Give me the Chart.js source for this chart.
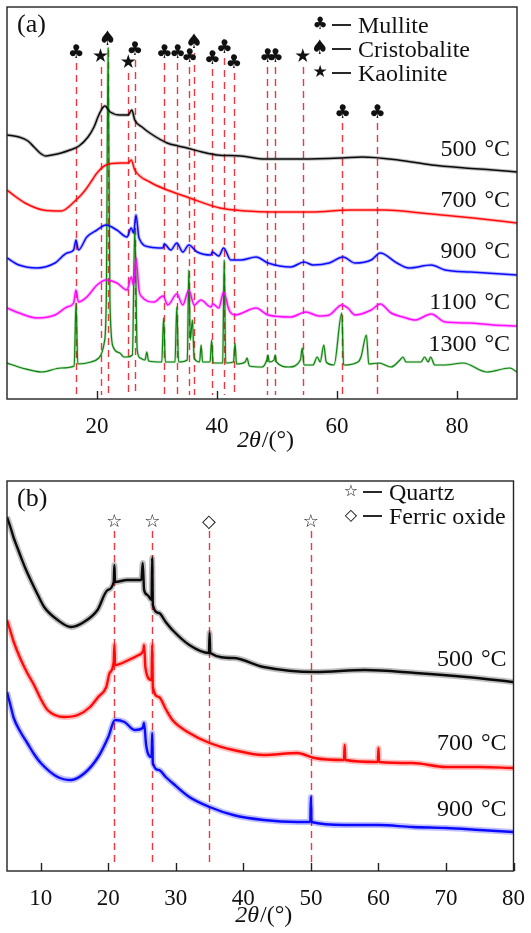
<!DOCTYPE html>
<html>
<head>
<meta charset="utf-8">
<script src="https://cdn.jsdelivr.net/npm/chart.js@4.4.1/dist/chart.umd.min.js"></script>
<style>
  html, body { margin: 0; padding: 0; background: #fff; }
  canvas { position: absolute; left: 0; }
  #xrdA { top: 0; }
  #xrdB { top: 465px; }
</style>
</head>
<body>
<canvas id="xrdA" width="531" height="465"></canvas>
<canvas id="xrdB" width="531" height="468"></canvas>
<script>
// (a) XRD patterns, 2θ in degrees vs intensity (a.u., stacked)
const ticksA = [20, 40, 60, 80];
const labelsA = ['500 \u200A°C', '700 \u200A°C', '900 \u200A°C', '1100 \u200A°C', '1300 \u200A°C'];

const a500 = [[5,264],[7,262],[8.5,258],[9.5,252],[10.5,246],[11.5,243],[12.5,244],[14,246],[15.5,249],[17,253],
  [18.5,262],[19.5,272],[20.3,284],[21.3,293],[22.2,287],[23.8,284],[25.2,284],[25.8,289],[26.3,279],[27.5,272],
  [28.8,266],[31.7,256],[33.5,253],[35,251],[37.5,247],[40,244],[44,243],[48,240],[54.2,240],[60.8,241],
  [64.2,242],[70.2,239],[75.8,234],[81.3,231],[86,229],[90,227]];

const a700 = [[5,209],[6.5,202],[8,196],[11,189],[14,188],[16.5,199],[17.5,205],[18.3,211],[19.2,219],[20,226],
  [21.5,234],[23.8,236],[25.2,236],[25.7,239],[26.3,229],[28.8,217],[31.7,209],[35,202],[40.5,191],[45,188],
  [49,187],[55.7,187],[62.3,189],[68,189],[74,186],[82.7,181],[90,176]];

const a900 = [[5,141],[7,134],[10,131],[13,136],[15,146],[16.1,149],[16.5,159],[16.9,149],[18.3,162],[20,169],
  [21.5,174],[23.3,169],[25,162],[25.7,171],[26.1,166],[26.5,184],[27,161],[28.8,152],[31,151],[31.2,155],
  [32.3,149],[33.3,156],[34.3,147],[35.3,154],[36.7,147],[39,144],[39.2,147],[40.3,143],[41.1,151],[42.3,139],
  [44,139],[46.5,142],[48.5,136],[52.3,132],[54.5,137],[56,134],[58.7,136],[61,142],[63,136],[65.7,139],
  [67.2,146],[70,136],[72,131],[75.7,134],[78,129],[82.3,127],[90,124]];

const a1100 = [[5,91],[7,86],[10,81],[13,84],[15,92],[16.1,96],[16.5,109],[16.9,97],[18.3,102],[20,114],
  [21.5,119],[23.3,116],[25,109],[25.7,122],[26.1,114],[26.5,141],[27,109],[27.5,102],[29.5,97],[31,103],
  [31.8,94],[33.3,105],[34.3,94],[35.3,109],[36.2,94],[37.3,99],[39,92],[39.3,95],[40.3,91],[41.1,107],
  [42,89],[43,84],[46.5,91],[48.5,84],[52.3,82],[54.8,87],[57,83],[58.7,84],[60.8,94],[61.8,91],
  [63,84],[65.7,89],[67.2,95],[69,86],[71,82],[73,79],[75.7,85],[78,77],[82,76],[86,74],[90,73]];

const a1300 = [[5,36],[7.5,31],[10.8,27],[14,31],[16.2,33],[16.5,96],[16.8,35],[19,37],[20.3,41],[21.2,56],
  [21.55,99],[21.85,351],[22.15,99],[22.7,52],[23.8,46],[24.5,42],[25,42],[25.9,44],[26.3,171],[26.7,49],
  [27.2,41],[28,39],[28.3,47],[28.6,38],[30.8,37],[31.1,81],[31.4,37],[33,37],[33.3,92],[33.6,37],
  [35.05,39],[35.3,129],[35.55,59],[35.9,79],[36.2,41],[37.1,37],[37.35,54],[37.6,37],[38.85,37],[39.1,59],
  [39.35,36],[40.95,36],[41.2,139],[41.45,36],[42.75,37],[43,56],[43.25,35],[44.7,37],[45,41],[45.4,33],
  [47.5,32],[48.3,39],[48.5,44],[48.7,37],[49.5,39],[49.7,44],[49.9,37],[52,32],[53.9,39],[54.2,51],
  [54.5,34],[56,34],[56.7,42],[57.2,37],[57.8,54],[58.2,37],[59.5,34],[60.8,86],[61.1,34],[63.5,37],
  [64,42],[64.9,64],[65.3,35],[67,36],[69,32],[70.5,39],[71,42],[71.5,37],[74,37],[74.6,42],
  [75.2,37],[75.6,42],[76.3,34],[78,34],[81,36],[85,27],[88.8,31],[90,27]];

const mulliteA = [16.5, 26.3, 31.2, 33.4, 35.4, 39.2, 41.2, 42.8, 48.4, 49.7, 60.9, 66.7];
const cristobaliteA = [21.8, 36.2];
const kaoliniteA = [20.6, 25.2, 54.3];

// (b) XRD patterns
const ticksB = [10, 20, 30, 40, 50, 60, 70, 80];
const labelsB = ['500 \u200A°C', '700 \u200A°C', '900 \u200A°C'];

const b500 = [[5,354],[5.5,344],[6,333],[6.5,324],[7,315],[7.7,303],[8.5,291],[9.5,277],[10.5,264],[12.5,251],
  [14.5,244],[16.4,249],[18.4,261],[19.9,281],[20.8,289],[20.9,306],[21,289],[22.8,291],[24.9,291],[25.1,308],
  [25.3,281],[25.8,276],[26.4,271],[26.5,313],[26.6,266],[27.5,258],[28.5,249],[29.5,241],[32,226],[34.9,218],
  [35,238],[35.1,218],[38.5,213],[43,204],[50.6,199],[58,201],[65.5,198],[73,194],[80,189]];

const b700 = [[5,251],[5.5,240],[6,229],[7,212],[8,198],[9,186],[10,172],[11,161],[13.5,154],[15.5,156],
  [17.3,164],[18.5,174],[19.7,184],[20.2,198],[20.8,209],[20.9,226],[21,206],[23,211],[24.5,216],[25.2,221],
  [25.3,226],[25.5,203],[26.4,191],[26.5,226],[26.6,184],[27.5,174],[28.5,162],[29.5,151],[32,138],[35,128],
  [38.5,121],[43,116],[48,118],[50.5,113],[54.9,111],[55,126],[55.1,111],[59.9,109],[60,123],[60.1,109],
  [65,108],[70,104],[75,104],[80,103]];

const b900 = [[5,179],[5.5,166],[6,153],[7,139],[8,128],[9,117],[10,108],[12.5,94],[14.5,91],[16.5,98],
  [18.5,114],[20,134],[21,151],[22.4,149],[23.9,141],[25.1,143],[25.3,148],[25.6,126],[26.4,114],[26.5,138],
  [26.6,108],[27.5,101],[28.5,94],[29.5,88],[32,74],[35,64],[38.5,56],[43,51],[48,49],[49.9,49],
  [50,74],[50.1,49],[55,46],[60,46],[65,44],[70,43],[75,41],[80,39]];

const quartzB = [20.9, 26.5, 50.0];
const ferricB = [34.9];

const SERIF = '"Liberation Serif", "Times New Roman", serif';
const SYMBOLS = '"DejaVu Sans", sans-serif';
const DASH_RED = 'rgb(236, 56, 64)';

function toPoints(arr) {
  return arr.map(p => ({ x: p[0], y: p[1] }));
}

function rgba(rgb, a) {
  return 'rgba(' + rgb.join(',') + ',' + a + ')';
}

// each pattern: a solid core line plus a soft wider stroke underneath for the counting noise
function buildDatasets(series, colors, core, halo) {
  const lines = series.map((s, i) => ({
    data: toPoints(s), borderColor: rgba(colors[i], 0.95), borderWidth: core[i],
    cubicInterpolationMode: 'monotone'
  }));
  const fuzz = series.map((s, i) => ({
    data: toPoints(s), borderColor: rgba(colors[i], 0.25), borderWidth: halo[i],
    cubicInterpolationMode: 'monotone'
  }));
  return lines.concat(fuzz);
}

function drawText(ctx, txt, x, y, size, align, italic) {
  ctx.font = (italic ? 'italic ' : '') + size + 'px ' + SERIF;
  ctx.textAlign = align || 'left';
  ctx.textBaseline = 'alphabetic';
  ctx.fillStyle = '#111';
  ctx.fillText(txt, x, y);
}

function drawSymbol(ctx, sym, x, y, size) {
  ctx.font = size + 'px ' + SYMBOLS;
  ctx.textAlign = 'center';
  ctx.textBaseline = 'middle';
  ctx.fillStyle = '#111';
  ctx.fillText(sym, x, y);
}

function decorPlugin(cfg) {
  return {
    id: 'xrdDecor',
    beforeDatasetsDraw(chart) {
      const ctx = chart.ctx, xs = chart.scales.x, ys = chart.scales.y, area = chart.chartArea;
      ctx.save();
      ctx.strokeStyle = DASH_RED;
      ctx.lineWidth = 1.4;
      ctx.setLineDash([7, 5]);
      cfg.markers.forEach(m => {
        const x = Math.round(xs.getPixelForValue(m.pos)) + 0.5;
        ctx.beginPath();
        ctx.moveTo(x, ys.getPixelForValue(m.h) + cfg.lineGap);
        ctx.lineTo(x, area.bottom - 4);
        ctx.stroke();
      });
      ctx.restore();
    },
    afterDatasetsDraw(chart) {
      const ctx = chart.ctx, xs = chart.scales.x, ys = chart.scales.y, area = chart.chartArea;
      ctx.save();
      // frame
      ctx.strokeStyle = '#222';
      ctx.lineWidth = 1.4;
      ctx.strokeRect(area.left, area.top, area.right - area.left, area.bottom - area.top);
      // inward tick marks
      cfg.ticks.forEach(v => {
        const x = Math.round(xs.getPixelForValue(v)) + 0.5;
        ctx.beginPath();
        ctx.moveTo(x, area.bottom);
        ctx.lineTo(x, area.bottom - 8);
        ctx.stroke();
      });
      // phase symbols above the dashed lines
      cfg.markers.forEach(m => drawSymbol(ctx, m.sym, xs.getPixelForValue(m.pos), ys.getPixelForValue(m.h), m.size));
      // temperature labels
      cfg.temps.forEach((t, i) => drawText(ctx, t, area.right - 7, ys.getPixelForValue(cfg.tempY[i]) + 8, 24, 'right'));
      // legend
      cfg.legend.forEach(row => {
        drawSymbol(ctx, row.sym, row.x, row.y, row.size);
        ctx.strokeStyle = '#111';
        ctx.lineWidth = 1.8;
        ctx.beginPath();
        ctx.moveTo(row.x + 12, row.y);
        ctx.lineTo(row.x + 31, row.y);
        ctx.stroke();
        drawText(ctx, row.text, row.x + 38, row.y + 8, 24, 'left');
      });
      // panel tag
      drawText(ctx, cfg.tag, area.left + 10, area.top + 25, 26, 'left');
      // axis title: italic 2θ followed by upright /(°)
      ctx.font = 'italic 24px ' + SERIF;
      const w1 = ctx.measureText('2θ').width;
      ctx.font = '24px ' + SERIF;
      const w2 = ctx.measureText('/(°)').width;
      const cx = (area.left + area.right) / 2 + 3;
      const x0 = cx - (w1 + w2) / 2;
      drawText(ctx, '2θ', x0, area.bottom + cfg.titleDy, 24, 'left', true);
      drawText(ctx, '/(°)', x0 + w1 + 1, area.bottom + cfg.titleDy, 24, 'left', false);
      ctx.restore();
    }
  };
}

function makeChart(id, datasets, xMax, ticks, padTop, axisH, yMax, decor) {
  return new Chart(document.getElementById(id), {
    type: 'line',
    data: { datasets: datasets },
    options: {
      responsive: false,
      animation: false,
      devicePixelRatio: 1,
      layout: { padding: { left: 7, right: 14, top: padTop, bottom: 0 } },
      elements: { point: { radius: 0 } },
      plugins: { legend: { display: false }, tooltip: { enabled: false } },
      scales: {
        x: {
          type: 'linear', min: 5, max: xMax,
          grid: { display: false },
          border: { display: false },
          afterBuildTicks: s => { s.ticks = ticks.map(v => ({ value: v })); },
          afterFit: s => { s.height = axisH; },
          ticks: { color: '#111', font: { family: SERIF, size: 23 }, padding: 6, maxRotation: 0 }
        },
        y: { display: false, min: 0, max: yMax }
      }
    },
    plugins: [decorPlugin(decor)]
  });
}

const CLUB = '\u2663', SPADE = '\u2660', STAR = '\u2605', OSTAR = '\u2606', DIAMOND = '\u25C7';

// symbol heights (intensity units) for the phase markers in (a)
const rowA = { 16.5: 346, 26.3: 349, 31.2: 346, 33.4: 346, 35.4: 342, 39.2: 340, 41.2: 351, 42.8: 336,
  48.4: 342, 49.7: 342, 60.9: 286, 66.7: 286, 21.8: 359, 36.2: 356, 20.6: 342, 25.2: 336, 54.3: 342 };

const markersA = []
  .concat(mulliteA.map(p => ({ pos: p, sym: CLUB, h: rowA[p], size: 19 })))
  .concat(cristobaliteA.map(p => ({ pos: p, sym: SPADE, h: rowA[p], size: 20 })))
  .concat(kaoliniteA.map(p => ({ pos: p, sym: STAR, h: rowA[p], size: 19 })));

const markersB = []
  .concat(quartzB.map(p => ({ pos: p, sym: OSTAR, h: 349, size: 18 })))
  .concat(ferricB.map(p => ({ pos: p, sym: DIAMOND, h: 349, size: 18 })));

const BLACK = [0, 0, 0], RED = [255, 0, 0], BLUE = [0, 0, 255], MAGENTA = [255, 0, 255], GREEN = [0, 128, 0];

makeChart('xrdA',
  buildDatasets([a500, a700, a900, a1100, a1300], [BLACK, RED, BLUE, MAGENTA, GREEN],
    [1.5, 1.5, 1.5, 1.5, 1.2], [3.6, 3.6, 3.6, 3.6, 2.6]),
  90, ticksA, 7, 66, 392, {
    markers: markersA, lineGap: 10, ticks: ticksA, tag: '(a)', titleDy: 48,
    temps: labelsA, tempY: [251, 200, 149, 98, 56],
    legend: [
      { sym: CLUB, x: 320, y: 25, size: 17, text: 'Mullite' },
      { sym: SPADE, x: 320, y: 49, size: 20, text: 'Cristobalite' },
      { sym: STAR, x: 320, y: 73, size: 17, text: 'Kaolinite' }
    ]
  });

makeChart('xrdB',
  buildDatasets([b500, b700, b900], [BLACK, RED, BLUE], [2.4, 2.4, 2.4], [6, 6, 6]),
  80, ticksB, 16, 62, 390, {
    markers: markersB, lineGap: 9, ticks: ticksB, tag: '(b)', titleDy: 51,
    temps: labelsB, tempY: [213, 129, 63],
    legend: [
      { sym: OSTAR, x: 351, y: 27, size: 16, text: 'Quartz' },
      { sym: DIAMOND, x: 351, y: 51, size: 16, text: 'Ferric oxide' }
    ]
  });
</script>
</body>
</html>
